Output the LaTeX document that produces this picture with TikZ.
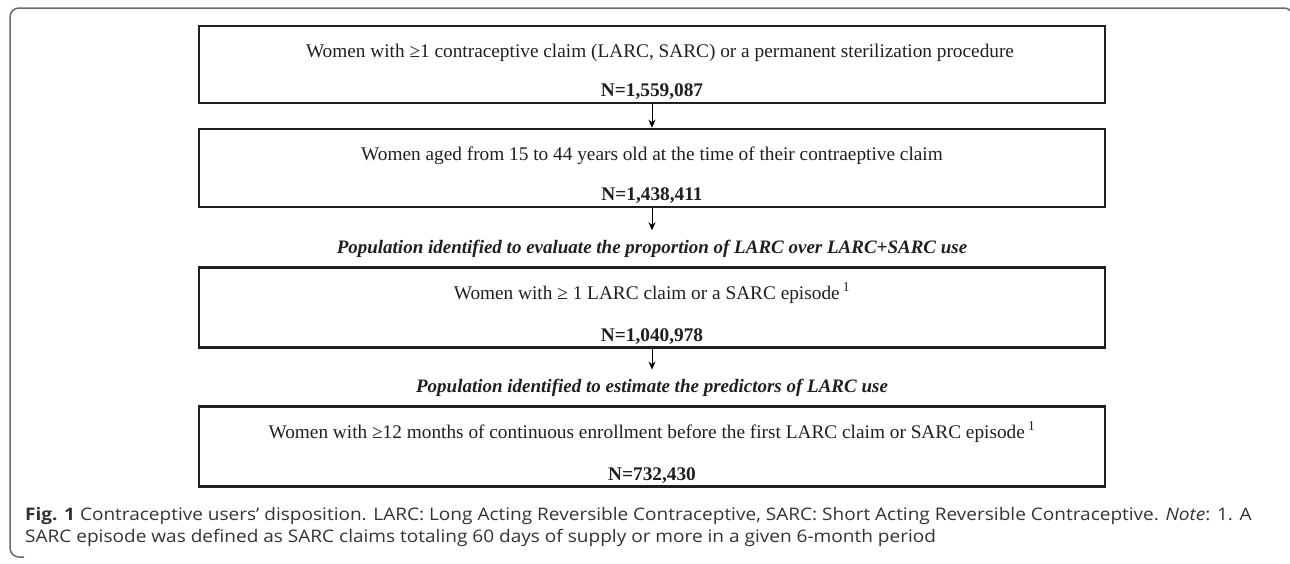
\documentclass[tikz,border=0pt]{standalone}
\usepackage{fontspec}
\setmainfont{Liberation Serif}
\newfontfamily\capfont[FakeStretch=1.1]{Open Sans}
\usepackage{xcolor}
\usepackage{tikz}
\usetikzlibrary{arrows.meta,
                positioning}
\definecolor{framegray}{HTML}{6A6A6A}
\definecolor{capgray}{HTML}{333333}
\tikzstyle{stepbox} = [draw=black!88, line width=2.5pt, minimum width=906pt, inner sep=0pt]
\tikzstyle{arrow} = [line width=1pt,-{Stealth[length=8pt,width=7pt]}]
\tikzstyle{boxtext} = [font=\fontsize{19.3}{23}\selectfont, text=black!88, inner sep=0pt, anchor=base]
\tikzstyle{poptext} = [font=\fontsize{19}{23}\selectfont\bfseries\itshape, text=black!88, inner xsep=0pt, inner ysep=9.5pt]
\tikzstyle{captext} = [font=\capfont\fontsize{17.3}{21}\selectfont, text=capgray, inner sep=0pt, anchor=base west]

\begin{document}
\begin{tikzpicture}[x=1pt,y=-1pt]
    \useasboundingbox (0,0) rectangle (1290,563);
    % outer frame
    \draw[framegray, line width=1.5pt, rounded corners=9pt] (24,557) -- (10,557) -- (10,8) -- (1293,8) -- (1293,40);

    \node[stepbox, minimum height=77pt] (box1) at (652,64.5) {};
    \node[stepbox, minimum height=78pt] (box2)[below= 23.5pt of box1] {};
    \node[poptext] (pop1)[below= 22pt of box2] {Population identified to evaluate the proportion of LARC over LARC+SARC use};
    \node[stepbox, minimum height=80pt] (box3)[below= -1pt of pop1] {};
    \node[poptext] (pop2)[below= 21pt of box3] {Population identified to estimate the predictors of LARC use};
    \node[stepbox, minimum height=80pt] (box4)[below= -1pt of pop2] {};

    \node[boxtext] (txt1) at ([xshift=8pt,yshift=-33pt]box1.north) {Women with ≥1 contraceptive claim (LARC, SARC) or a permanent sterilization procedure};
    \node[boxtext] (num1) at ([yshift=7.5pt]box1.south) {\textbf{N=1,559,087}};
    \node[boxtext] (txt2) at ([yshift=-33pt]box2.north) {Women aged from 15 to 44 years old at the time of their contraeptive claim};
    \node[boxtext] (num2) at ([yshift=7.5pt]box2.south) {\textbf{N=1,438,411}};
    \node[boxtext] (txt3) at ([yshift=-33pt]box3.north) {Women with ≥ 1 LARC claim or a SARC episode\,\textsuperscript{1}};
    \node[boxtext] (num3) at ([yshift=7.5pt]box3.south) {\textbf{N=1,040,978}};
    \node[boxtext] (txt4) at ([yshift=-33pt]box4.north) {Women with ≥12 months of continuous enrollment before the first LARC claim or SARC episode\,\textsuperscript{1}};
    \node[boxtext] (num4) at ([yshift=7.5pt]box4.south) {\textbf{N=732,430}};

    \draw [arrow] (box1) -- (box2);
    \draw [arrow] (box2) -- (pop1);
    \draw [arrow] (box3) -- (pop2);

    % caption
    \node[captext] (cap1) at (25,520) {\textbf{Fig. 1} Contraceptive users’ disposition. LARC: Long Acting Reversible Contraceptive, SARC: Short Acting Reversible Contraceptive. \textit{Note}: 1. A};
    \node[captext] (cap2) at (25,542) {SARC episode was defined as SARC claims totaling 60 days of supply or more in a given 6-month period};
\end{tikzpicture}
\end{document}
